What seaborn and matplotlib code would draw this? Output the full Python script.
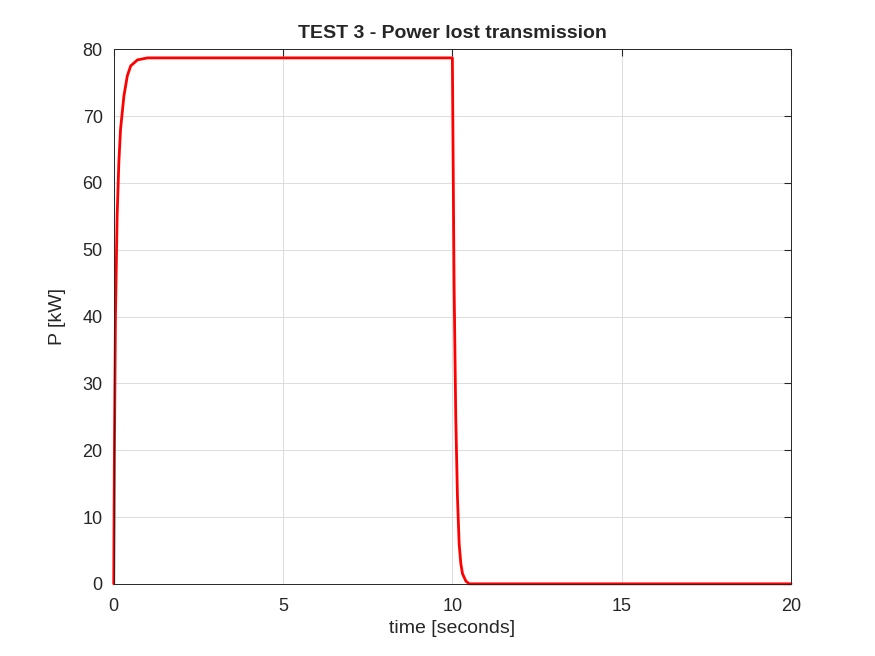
import matplotlib
matplotlib.use('Agg')
import matplotlib.pyplot as plt
import seaborn as sns
import pandas as pd

time_s = [0.0, 0.02, 0.05, 0.1, 0.15, 0.2, 0.3, 0.4, 0.5, 0.7, 1.0,
          10.0, 10.02, 10.05, 10.1, 10.15, 10.2, 10.25, 10.3, 10.4, 10.5, 20.0]
power_kw = [0.0, 20.0, 40.0, 55.0, 63.0, 68.0, 73.0, 76.0, 77.5, 78.4, 78.7,
            78.7, 65.0, 45.0, 25.0, 13.0, 6.0, 3.0, 1.5, 0.4, 0.0, 0.0]
df = pd.DataFrame({'t': time_s, 'P': power_kw})

sns.set_style('white')
plt.rcParams['font.family'] = ['Liberation Sans', 'DejaVu Sans']

fig = plt.figure(figsize=(8.75, 6.56), dpi=100)
ax = fig.add_axes([0.130, 0.110, 0.774, 0.815])
sns.lineplot(data=df, x='t', y='P', color='red', linewidth=2, ax=ax)
for ln in ax.lines:
    ln.set_clip_on(False)

ax.set_xlim(0, 20)
ax.set_ylim(0, 80)
ax.set_xticks(range(0, 21, 5))
ax.set_yticks(range(0, 81, 10))
ax.grid(True, color='#dcdcdc', linewidth=0.7)
for s in ax.spines.values():
    s.set_color('#262626')
    s.set_linewidth(0.7)
ax.tick_params(direction='in', labelsize=13, colors='#262626', length=5, top=True, right=True,
               labeltop=False, labelright=False)
ax.tick_params(axis='x', pad=10)
ax.tick_params(axis='y', pad=8)
ax.set_xlabel('time [seconds]', fontsize=14, color='#262626', labelpad=4)
ax.set_ylabel('P [kW]', fontsize=14, color='#262626', labelpad=12)
ax.set_title('TEST 3 - Power lost transmission', fontsize=14, fontweight='bold', pad=8)

fig.savefig('out.png')
